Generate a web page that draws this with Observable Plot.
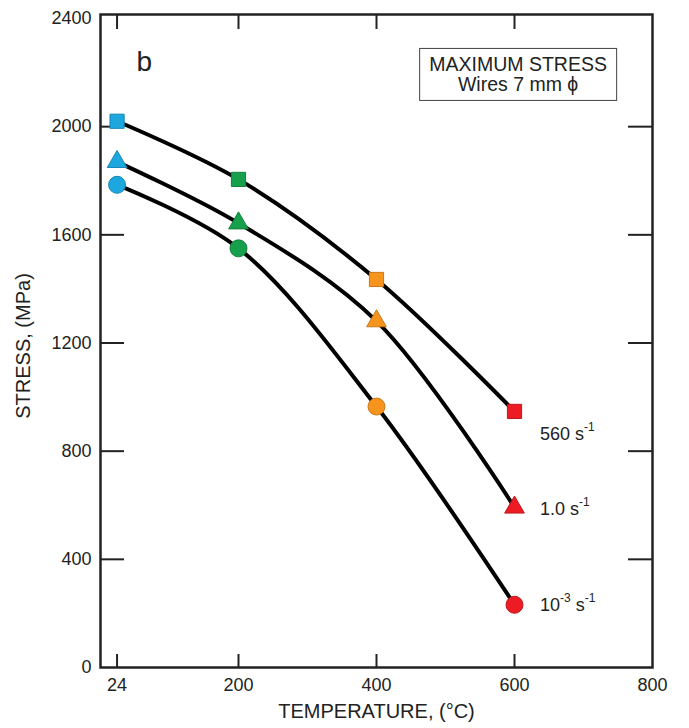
<!DOCTYPE html>
<html><head><meta charset="utf-8">
<script src="https://cdn.jsdelivr.net/npm/d3@7"></script>
<script src="https://cdn.jsdelivr.net/npm/@observablehq/plot@0.6"></script>
<style>body{margin:0;background:#fff} svg{display:block}</style>
</head><body><div id="chart"></div>
<script>
// ---- data ----
const temperatures = [24, 200, 400, 600];
const stress560 = [2020, 1805, 1435, 947];
const stress1 = [1870, 1643, 1281, 592];
const stress1e3 = [1785, 1550, 965, 232];
const seriesNames = ["560 s-1", "1.0 s-1", "10-3 s-1"];
const seriesSymbols = ["square", "triangle", "circle"];
const temperatureColors = ["#1DA7DF", "#17A04B", "#F7941D", "#ED1C24"];
const xTickValues = [24, 200, 400, 600, 800];
const xInnerTicks = [24, 200, 400, 600];
const yTickValues = [0, 400, 800, 1200, 1600, 2000, 2400];
const yInnerTicks = [400, 800, 1200, 1600, 2000];
// label parts: [text, isSuperscript]
const seriesLabelParts = [
  [["560 s", false], ["-1", true]],
  [["1.0 s", false], ["-1", true]],
  [["10", false], ["-3", true], [" s", false], ["-1", true]]
];
const boxLines = ["MAXIMUM STRESS", "Wires 7 mm \u03D5"];
const panelLetter = "b";
const xTitle = "TEMPERATURE, (\u00B0C)";
const yTitle = "STRESS, (MPa)";

const seriesValues = [stress560, stress1, stress1e3];
const rows = [];
seriesValues.forEach((vals, si) => vals.forEach((v, i) => rows.push({
  series: seriesNames[si], symbol: seriesSymbols[si], t: temperatures[i], s: v,
  color: temperatureColors[i]
})));

const W = 689, H = 728;
const mL = 100, mR = 37, mT = 18, mB = 61;
const innerW = W - mL - mR, innerH = H - mT - mB;
const ink = "#222";
const font = "'Liberation Sans', Arial, sans-serif";
const dark = d => d3.color(d.color).darker(0.6).formatHex();

const chart = Plot.plot({
  width: W, height: H,
  marginLeft: mL, marginRight: mR, marginTop: mT, marginBottom: mB,
  style: {fontFamily: font, color: ink, background: "#fff"},
  x: {domain: [0, 800]},
  y: {domain: [0, 2400]},
  marks: [
    Plot.axisX({ticks: xTickValues, tickSize: 0, tickPadding: 11, fontSize: 18, label: null, tickFormat: d => String(d)}),
    Plot.axisY({ticks: yTickValues, tickSize: 0, tickPadding: 9, fontSize: 18, label: null, tickFormat: d => String(d)}),
    // inward ticks
    Plot.ruleX(xInnerTicks, {x: d => d, insetTop: innerH - 13, stroke: ink, strokeWidth: 2}),
    Plot.ruleX(xInnerTicks, {x: d => d, insetTop: -4, insetBottom: innerH - 11, stroke: ink, strokeWidth: 2}),
    Plot.ruleY(yInnerTicks, {y: d => d, insetRight: innerW - 24, stroke: ink, strokeWidth: 2}),
    Plot.ruleY(yInnerTicks, {y: d => d, insetLeft: innerW - 24, stroke: ink, strokeWidth: 2}),
    Plot.frame({stroke: ink, strokeWidth: 2.5, insetTop: -4}),
    Plot.line(rows, {x: "t", y: "s", z: "series", curve: "catmull-rom", stroke: "#000", strokeWidth: 4}),
    Plot.dot(rows.filter(d => d.symbol === "circle"), {x: "t", y: "s", symbol: "circle", r: 8.5, fill: d => d.color, stroke: dark, strokeWidth: 1}),
    Plot.dot(rows.filter(d => d.symbol === "square"), {x: "t", y: "s", symbol: "square", r: 8, fill: d => d.color, stroke: dark, strokeWidth: 1}),
    Plot.dot(rows.filter(d => d.symbol === "triangle"), {x: "t", y: "s", symbol: "triangle", r: 7.3, fill: d => d.color, stroke: dark, strokeWidth: 1}),
    Plot.text([xTitle], {frameAnchor: "bottom", textAnchor: "middle", dy: 50, fontSize: 20, fill: ink}),
    Plot.text([yTitle], {frameAnchor: "left", textAnchor: "middle", dx: -77, dy: 3, rotate: -90, fontSize: 20, fill: ink}),
    Plot.text([panelLetter], {frameAnchor: "top-left", textAnchor: "start", dx: 36, dy: 33, fontSize: 28, fill: ink})
  ]
});
document.getElementById("chart").appendChild(chart);

const xsc = chart.scale("x"), ysc = chart.scale("y");
const sx = d3.scaleLinear(xsc.domain, xsc.range);
const sy = d3.scaleLinear(ysc.domain, ysc.range);
const svg = d3.select(chart);

// series labels beside the last points
const labelDy = [23, 2, 1];
seriesValues.forEach((vals, si) => {
  const lastT = temperatures[temperatures.length - 1];
  const t = svg.append("text")
    .attr("x", sx(lastT) + 26)
    .attr("y", sy(vals[vals.length - 1]) + labelDy[si])
    .attr("text-anchor", "start")
    .attr("dominant-baseline", "central")
    .attr("font-size", 18)
    .attr("fill", ink)
    .attr("font-family", font);
  seriesLabelParts[si].forEach(([txt, sup]) => {
    t.append("tspan").attr("font-size", sup ? 12 : 18).attr("baseline-shift", sup ? "7" : null).text(txt);
  });
});

// annotation box
const bx = sx(606), by = sy(2195);
const g = svg.append("g").attr("font-family", font).attr("fill", ink);
g.append("rect").attr("x", bx - 98.5).attr("y", by - 25).attr("width", 197).attr("height", 52)
  .attr("fill", "#fff").attr("stroke", "#444").attr("stroke-width", 1);
boxLines.forEach((ln, i) => {
  g.append("text").attr("x", bx).attr("y", by - 9 + i * 20).attr("text-anchor", "middle")
    .attr("dominant-baseline", "central").attr("font-size", 19.5).text(ln);
});
</script>
</body></html>
